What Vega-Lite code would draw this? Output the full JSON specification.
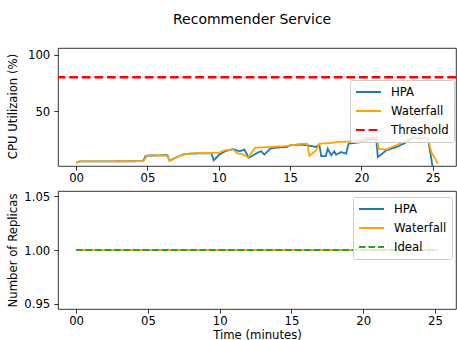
{
  "$schema": "https://vega.github.io/schema/vega-lite/v6.json",
  "padding": {"left": 6, "top": 12, "right": 0, "bottom": 0},
  "title": {"text": "Recommender Service", "fontSize": 14, "fontWeight": "normal", "font": "DejaVu Sans", "color": "black", "anchor": "middle", "dx": 20, "offset": 21},
  "spacing": 5,
  "config": {
    "font": "DejaVu Sans",
    "view": {"stroke": "black", "strokeWidth": 0.8},
    "axis": {"domain": false, "grid": false, "tickColor": "black", "tickSize": 4.2, "tickWidth": 0.8, "labelFontSize": 11.7, "labelColor": "black", "titleFontSize": 11.7, "titleFontWeight": "normal", "titleColor": "black", "labelFont": "DejaVu Sans", "titleFont": "DejaVu Sans"},
    "axisX": {"labelPadding": 2.5, "titlePadding": 2},
    "axisY": {"labelPadding": 4},
    "legend": {"orient": "none", "title": null, "symbolType": "M-1,0H3.17", "symbolSize": 144, "symbolStrokeWidth": 1.8, "labelOffset": 22, "padding": 5, "rowPadding": 5, "strokeColor": "#cccccc", "fillColor": "rgba(255,255,255,0.8)", "cornerRadius": 2, "labelFontSize": 11.7, "labelColor": "black", "labelFont": "DejaVu Sans"}
  },
  "resolve": {"scale": {"color": "independent", "strokeDash": "independent"}},
  "vconcat": [
    {
      "width": 398,
      "height": 118,
      "encoding": {
        "y": {"field": "v", "type": "quantitative", "scale": {"domain": [1.5, 105.8], "nice": false, "zero": false}, "axis": {"values": [50, 100], "title": "CPU Utilizaion (%)", "titleX": -45.5, "titleY": 58, "titleBaseline": "middle"}},
        "color": {"field": "series", "type": "nominal", "scale": {"domain": ["HPA", "Waterfall", "Threshold"], "range": ["#1f77b4", "#ffa500", "#ff0000"]}, "legend": {"legendX": 292, "legendY": 32}},
        "strokeDash": {"field": "series", "type": "nominal", "scale": {"domain": ["HPA", "Waterfall", "Threshold"], "range": [[1, 0], [1, 0], [8.8, 3.8]]}, "legend": {"legendX": 292, "legendY": 32}}
      },
      "layer": [
        {
          "data": {"values": [
            {"series": "HPA", "t": 0, "v": 4.5}, {"series": "HPA", "t": 0.25, "v": 5.5}, {"series": "HPA", "t": 1, "v": 5.6}, {"series": "HPA", "t": 2, "v": 5.6}, {"series": "HPA", "t": 3, "v": 5.7}, {"series": "HPA", "t": 4, "v": 5.7}, {"series": "HPA", "t": 4.7, "v": 5.8}, {"series": "HPA", "t": 4.85, "v": 10}, {"series": "HPA", "t": 5.05, "v": 10.8}, {"series": "HPA", "t": 5.5, "v": 10.8}, {"series": "HPA", "t": 6, "v": 11}, {"series": "HPA", "t": 6.4, "v": 11}, {"series": "HPA", "t": 6.55, "v": 6.2}, {"series": "HPA", "t": 7, "v": 9}, {"series": "HPA", "t": 7.45, "v": 11.5}, {"series": "HPA", "t": 7.95, "v": 12.4}, {"series": "HPA", "t": 8.5, "v": 12.6}, {"series": "HPA", "t": 9, "v": 12.6}, {"series": "HPA", "t": 9.47, "v": 12.8}, {"series": "HPA", "t": 9.65, "v": 6.5}, {"series": "HPA", "t": 10.05, "v": 11.8}, {"series": "HPA", "t": 10.5, "v": 14.8}, {"series": "HPA", "t": 11, "v": 16.5}, {"series": "HPA", "t": 11.45, "v": 14.5}, {"series": "HPA", "t": 11.8, "v": 16}, {"series": "HPA", "t": 12.1, "v": 8.8}, {"series": "HPA", "t": 12.75, "v": 13.5}, {"series": "HPA", "t": 12.97, "v": 14.5}, {"series": "HPA", "t": 13.2, "v": 11.6}, {"series": "HPA", "t": 13.6, "v": 16.8}, {"series": "HPA", "t": 14, "v": 17.7}, {"series": "HPA", "t": 14.75, "v": 18.3}, {"series": "HPA", "t": 15, "v": 19.8}, {"series": "HPA", "t": 15.7, "v": 20.4}, {"series": "HPA", "t": 16.25, "v": 19.8}, {"series": "HPA", "t": 16.8, "v": 18.3}, {"series": "HPA", "t": 17.05, "v": 20.4}, {"series": "HPA", "t": 17.18, "v": 10.3}, {"series": "HPA", "t": 17.5, "v": 10.3}, {"series": "HPA", "t": 17.64, "v": 16.8}, {"series": "HPA", "t": 17.88, "v": 11}, {"series": "HPA", "t": 18.1, "v": 14.5}, {"series": "HPA", "t": 18.23, "v": 11.5}, {"series": "HPA", "t": 18.58, "v": 13.8}, {"series": "HPA", "t": 18.93, "v": 12.4}, {"series": "HPA", "t": 19.1, "v": 21.2}, {"series": "HPA", "t": 20, "v": 22.7}, {"series": "HPA", "t": 20.57, "v": 25}, {"series": "HPA", "t": 21.04, "v": 25}, {"series": "HPA", "t": 21.15, "v": 9.4}, {"series": "HPA", "t": 21.74, "v": 15.3}, {"series": "HPA", "t": 22.5, "v": 18.5}, {"series": "HPA", "t": 23, "v": 21.5}, {"series": "HPA", "t": 23.37, "v": 24.2}, {"series": "HPA", "t": 23.6, "v": 27}, {"series": "HPA", "t": 24.07, "v": 25.6}, {"series": "HPA", "t": 24.66, "v": 26.2}, {"series": "HPA", "t": 25.0, "v": 0},
            {"series": "Waterfall", "t": 0, "v": 4.5}, {"series": "Waterfall", "t": 0.25, "v": 5.6}, {"series": "Waterfall", "t": 1, "v": 5.6}, {"series": "Waterfall", "t": 2, "v": 5.6}, {"series": "Waterfall", "t": 3, "v": 5.7}, {"series": "Waterfall", "t": 4, "v": 5.7}, {"series": "Waterfall", "t": 4.72, "v": 5.8}, {"series": "Waterfall", "t": 5.0, "v": 11}, {"series": "Waterfall", "t": 5.5, "v": 10.8}, {"series": "Waterfall", "t": 6, "v": 10.8}, {"series": "Waterfall", "t": 6.4, "v": 10.5}, {"series": "Waterfall", "t": 6.55, "v": 6}, {"series": "Waterfall", "t": 7, "v": 8.8}, {"series": "Waterfall", "t": 7.45, "v": 11.5}, {"series": "Waterfall", "t": 7.95, "v": 12.4}, {"series": "Waterfall", "t": 8.5, "v": 13}, {"series": "Waterfall", "t": 9, "v": 13}, {"series": "Waterfall", "t": 9.5, "v": 13}, {"series": "Waterfall", "t": 10.0, "v": 13.2}, {"series": "Waterfall", "t": 10.4, "v": 15.3}, {"series": "Waterfall", "t": 11.0, "v": 16.2}, {"series": "Waterfall", "t": 11.3, "v": 12.7}, {"series": "Waterfall", "t": 11.7, "v": 11.8}, {"series": "Waterfall", "t": 12.05, "v": 9}, {"series": "Waterfall", "t": 12.55, "v": 17.7}, {"series": "Waterfall", "t": 13, "v": 18}, {"series": "Waterfall", "t": 13.5, "v": 18.3}, {"series": "Waterfall", "t": 14, "v": 18.6}, {"series": "Waterfall", "t": 14.7, "v": 19.1}, {"series": "Waterfall", "t": 15.1, "v": 19.8}, {"series": "Waterfall", "t": 15.66, "v": 21}, {"series": "Waterfall", "t": 16.2, "v": 21.2}, {"series": "Waterfall", "t": 16.36, "v": 10.5}, {"series": "Waterfall", "t": 16.83, "v": 15.3}, {"series": "Waterfall", "t": 17.06, "v": 21.2}, {"series": "Waterfall", "t": 18, "v": 22}, {"series": "Waterfall", "t": 18.3, "v": 22.7}, {"series": "Waterfall", "t": 19, "v": 23}, {"series": "Waterfall", "t": 19.9, "v": 24.2}, {"series": "Waterfall", "t": 20.2, "v": 26}, {"series": "Waterfall", "t": 21.0, "v": 27}, {"series": "Waterfall", "t": 21.1, "v": 27.2}, {"series": "Waterfall", "t": 21.2, "v": 16.5}, {"series": "Waterfall", "t": 21.74, "v": 16.2}, {"series": "Waterfall", "t": 22.5, "v": 20}, {"series": "Waterfall", "t": 23.37, "v": 25.6}, {"series": "Waterfall", "t": 23.6, "v": 27}, {"series": "Waterfall", "t": 24, "v": 26.8}, {"series": "Waterfall", "t": 24.66, "v": 26.5}, {"series": "Waterfall", "t": 24.9, "v": 13.8}, {"series": "Waterfall", "t": 25.36, "v": 3.6}
          ]},
          "mark": {"type": "line", "strokeWidth": 1.8, "clip": true},
          "encoding": {
            "x": {"field": "t", "type": "quantitative", "scale": {"domain": [-1.27, 26.63], "nice": false, "zero": false}, "axis": {"values": [0, 5, 10, 15, 20, 25], "format": "02d", "title": null}}
          }
        },
        {
          "data": {"values": [{"series": "Threshold", "v": 80}]},
          "mark": {"type": "rule", "strokeWidth": 2.4},
          "encoding": {}
        }
      ]
    },
    {
      "width": 398,
      "height": 118,
      "data": {"values": [
        {"series": "HPA", "t": 0, "v": 1.0}, {"series": "HPA", "t": 25.2, "v": 1.0},
        {"series": "Waterfall", "t": 0, "v": 1.0}, {"series": "Waterfall", "t": 25.2, "v": 1.0},
        {"series": "Ideal", "t": 0, "v": 1.0}, {"series": "Ideal", "t": 25.2, "v": 1.0}
      ]},
      "mark": {"type": "line", "strokeWidth": 1.8},
      "encoding": {
        "x": {"field": "t", "type": "quantitative", "scale": {"domain": [-1.26, 26.46], "nice": false, "zero": false}, "axis": {"values": [0, 5, 10, 15, 20, 25], "format": "02d", "title": "Time (minutes)"}},
        "y": {"field": "v", "type": "quantitative", "scale": {"domain": [0.945, 1.055], "nice": false, "zero": false}, "axis": {"values": [0.95, 1.0, 1.05], "format": ".2f", "title": "Number of Replicas", "titleX": -46, "titleY": 59, "titleBaseline": "middle"}},
        "color": {"field": "series", "type": "nominal", "sort": null, "scale": {"domain": ["HPA", "Waterfall", "Ideal"], "range": ["#1f77b4", "#ffa500", "#2ca02c"]}, "legend": {"legendX": 295, "legendY": 6}},
        "strokeDash": {"field": "series", "type": "nominal", "sort": null, "scale": {"domain": ["HPA", "Waterfall", "Ideal"], "range": [[1, 0], [1, 0], [6.6, 2.9]]}, "legend": {"legendX": 295, "legendY": 6}}
      }
    }
  ]
}
